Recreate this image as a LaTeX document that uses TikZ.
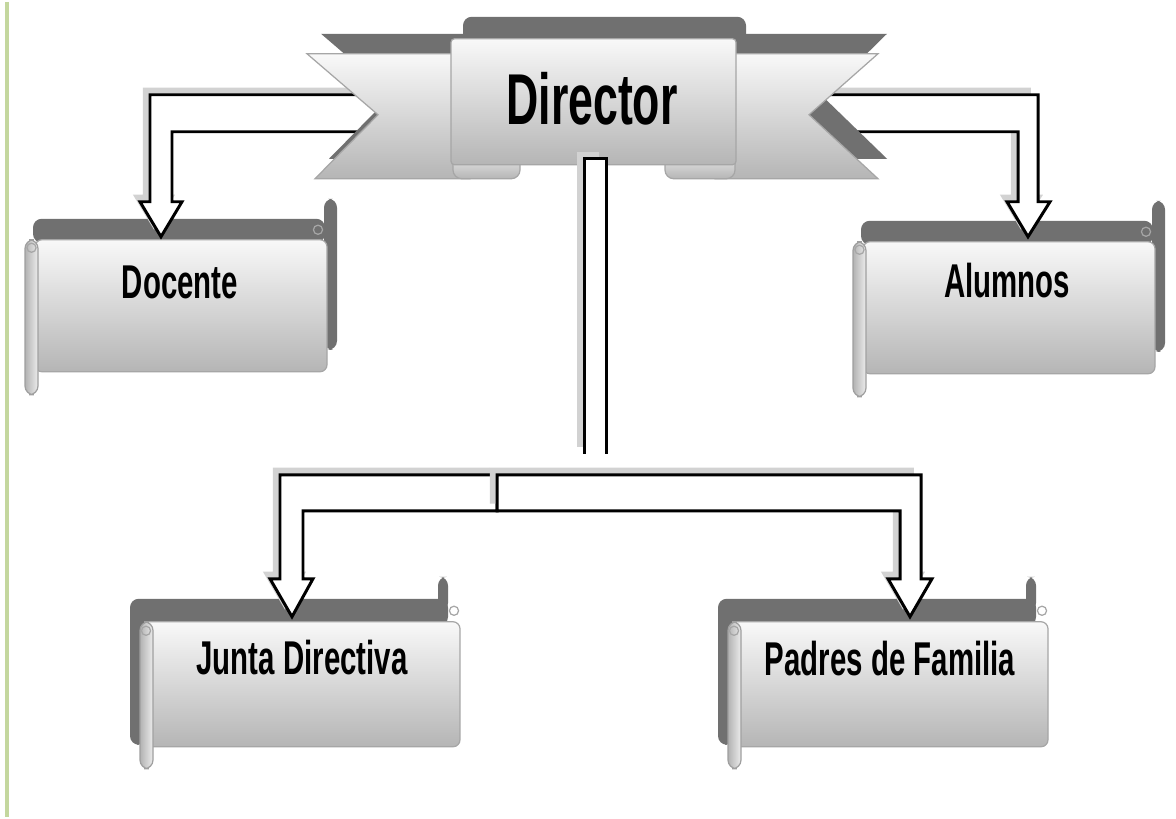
\documentclass[tikz,border=0pt]{standalone}
\usepackage{fontspec}
\newfontfamily\orgfont[FakeStretch=0.62]{Liberation Sans}
\definecolor{bandgray}{RGB}{112,112,112}
\definecolor{leafgreen}{RGB}{196,215,158}

\tikzset{
  band/.style={fill=bandgray},
  panel/.style={top color=gray!5, bottom color=gray!58, draw=gray!70, line width=0.7pt},
  roll/.style={left color=gray!60, right color=gray!15, draw=gray!75, line width=0.7pt},
  hollow/.style={fill=white, draw=black, line width=1.7pt,
    preaction={fill=gray!35, transform canvas={xshift=-4pt, yshift=4pt}}},
  nametext/.style={font=\orgfont\bfseries\fontsize{27}{30}\selectfont},
  titletext/.style={font=\orgfont\bfseries\fontsize{41}{45}\selectfont},
  upscroll/.pic={
    \fill[band, rounded corners=5] (-2,-21) rectangle (290,3);
    \fill[band, rounded corners=5] (289,-41) rectangle (302,110);
    \draw[panel, rounded corners=4] (0,0) rectangle (292,132);
    \draw[roll, rounded corners=5] (-10,0) rectangle (3,155);
    \draw[gray!70, line width=0.7pt] (-3.5,8) circle (2.6pt);
    \draw[gray!70, line width=0.7pt] (283,-10) circle (2.6pt);
  },
  lowscroll/.pic={
    \fill[band, rounded corners=5] (-12,-23) -- (306,-23) -- (306,4) -- (4,4) -- (4,123) -- (-12,123) -- cycle;
    \fill[band, rounded corners=5] (296,-45) rectangle (306,-10);
    \draw[panel, rounded corners=4] (0,0) rectangle (318,125);
    \draw[roll, rounded corners=5] (-2,0) rectangle (11,147);
    \draw[gray!70, line width=0.7pt] (4,9) circle (2.6pt);
    \draw[gray!70, line width=0.7pt] (312,-11) circle (2.6pt);
  }
}

\begin{document}
\begin{tikzpicture}[x=0.02cm, y=-0.02cm]
\fill[white] (0,0) rectangle (1176,815);
\draw[leafgreen, line width=2pt] (7,0) -- (7,815);

% scrolls
\pic at (35,238) {upscroll};
\pic at (863,240) {upscroll};
\pic at (142,620) {lowscroll};
\pic at (730,620) {lowscroll};

\node[nametext] (docente) at (180,281) {Docente};
\node[nametext] (alumnos) at (1007,279) {Alumnos};
\node[nametext] (junta) at (302,656) {Junta Directiva};
\node[nametext] (padres) at (890,657) {Padres de Familia};

% arrow tips
\coordinate (docTip) at (161,235);
\coordinate (aluTip) at (1028,235);
\coordinate (junTip) at (292,615);
\coordinate (padTip) at (910,615);

\draw[hollow] (docTip) -- (182,200) -- (172,200) -- (172,130) -- (420,130) -- (420,93) -- (150,93) -- (150,200) -- (140,200) -- cycle;
\draw[hollow] (aluTip) -- (1007,200) -- (1018,200) -- (1018,130) -- (780,130) -- (780,93) -- (1038,93) -- (1038,200) -- (1050,200) -- cycle;

% director banner
\fill[band] (321,32) -- (470,32) -- (470,157) -- (329,157) -- (392,93) -- cycle;
\fill[band] (715,32) -- (887,32) -- (823,95) -- (887,157) -- (715,157) -- cycle;
\fill[band, rounded corners=5] (463,15) rectangle (746,45);
\draw[panel] (307,52) -- (470,52) -- (470,177) -- (315,177) -- (378,113) -- cycle;
\draw[panel] (715,52) -- (878,52) -- (809,113) -- (878,177) -- (715,177) -- cycle;
\draw[panel, rounded corners=5] (453,145) rectangle (520,177);
\draw[panel, rounded corners=5] (665,145) rectangle (735,177);
\draw[panel, rounded corners=2] (451,37) rectangle (736,163);
\node[titletext] (director) at (592,97) {Director};

% stem and lower arrows
\draw[hollow] (584,452) -- (584,157) -- (606,157) -- (606,452);
\draw[hollow] (junTip) -- (313,577) -- (303,577) -- (303,509) -- (497,509) -- (497,473) -- (280,473) -- (280,577) -- (270,577) -- cycle;
\draw[hollow] (padTip) -- (888,577) -- (900,577) -- (900,509) -- (497,509) -- (497,473) -- (921,473) -- (921,577) -- (932,577) -- cycle;
\end{tikzpicture}
\end{document}
